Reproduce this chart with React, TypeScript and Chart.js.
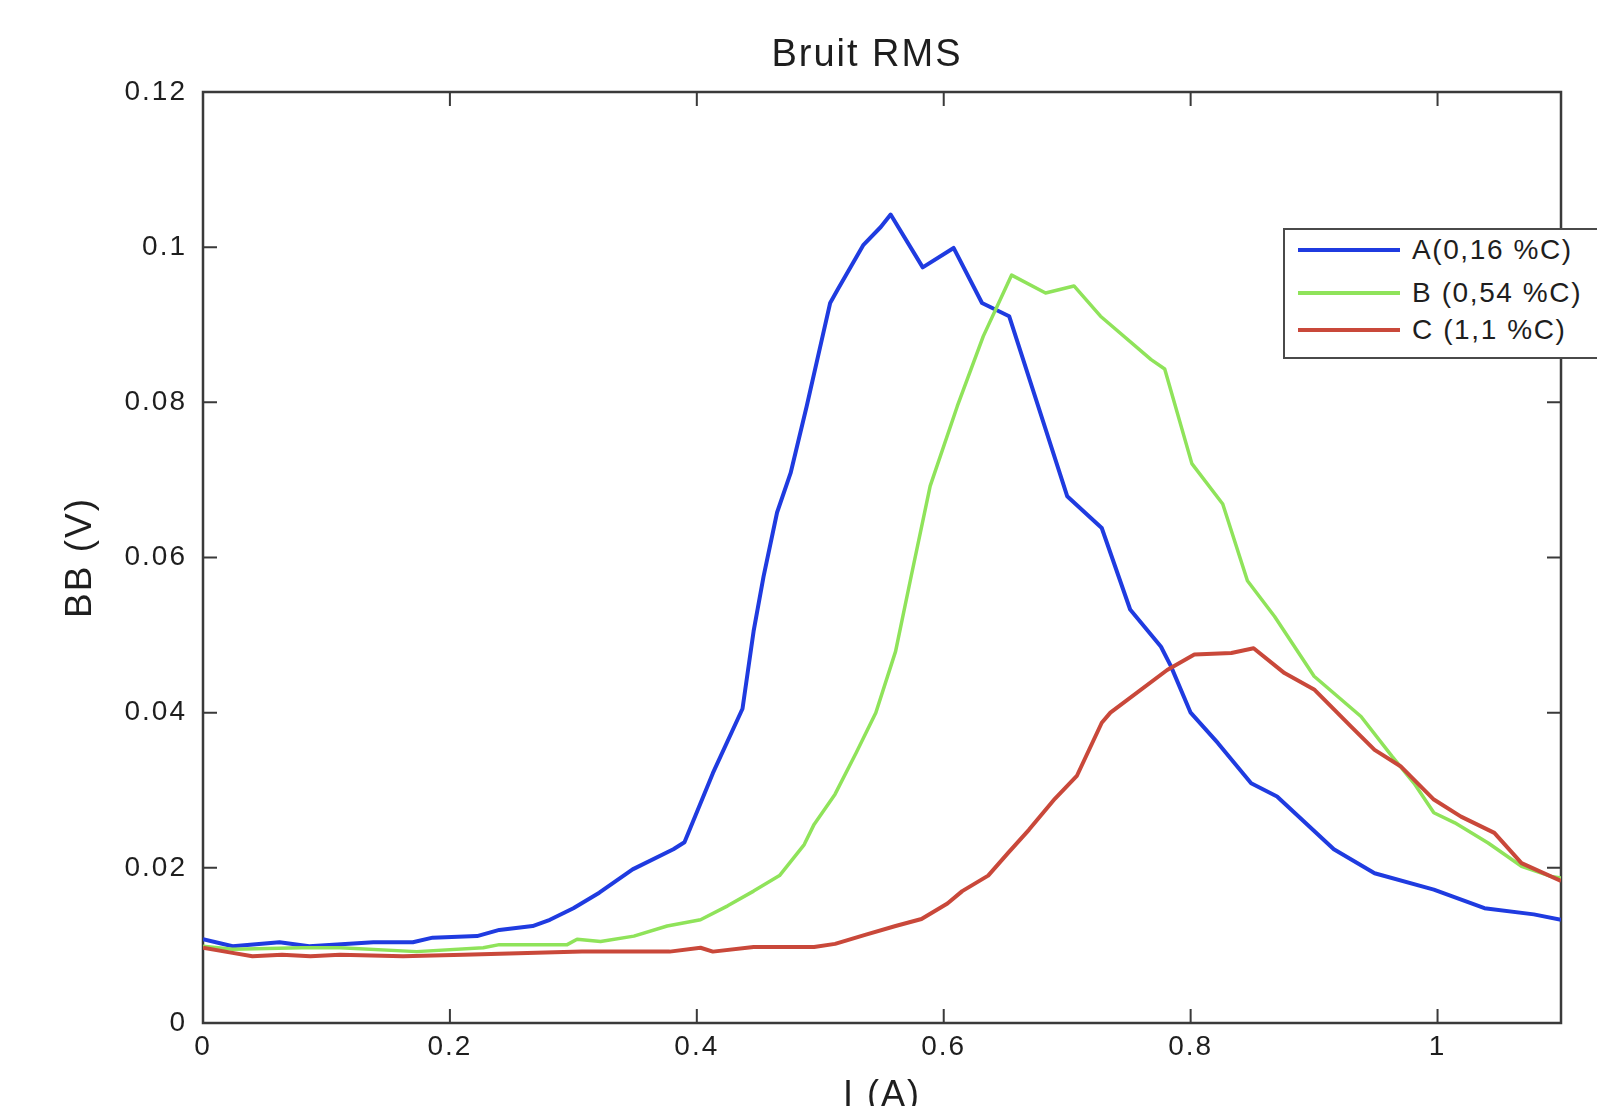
import React, { useEffect, useRef } from "react";
import { Chart, registerables } from "chart.js";

Chart.register(...registerables);

const titleText = "Bruit RMS";
const xAxisTitle = "I (A)";
const yAxisTitle = "BB (V)";
const seriesLabels = ["A(0,16 %C)", "B (0,54 %C)", "C (1,1 %C)"];
const seriesColors = ["#1f3be0", "#8fe35a", "#c9483a"];

const xTickValues = [0, 0.2, 0.4, 0.6, 0.8, 1];
const xTickLabels = ["0", "0.2", "0.4", "0.6", "0.8", "1"];
const yTickValues = [0, 0.02, 0.04, 0.06, 0.08, 0.1, 0.12];
const yTickLabels = ["0", "0.02", "0.04", "0.06", "0.08", "0.1", "0.12"];
const xRange = [0, 1.1];
const yRange = [0, 0.12];

// Series A (blue)
const aX = [0, 0.024, 0.062, 0.086, 0.138, 0.17, 0.186, 0.222, 0.24, 0.267, 0.281, 0.3, 0.321, 0.348, 0.381, 0.39, 0.413, 0.437, 0.446, 0.454, 0.465, 0.476, 0.489, 0.503, 0.508, 0.514, 0.535, 0.549, 0.557, 0.583, 0.608, 0.631, 0.653, 0.7, 0.728, 0.751, 0.776, 0.784, 0.8, 0.822, 0.849, 0.87, 0.916, 0.949, 0.997, 1.038, 1.078, 1.1];
const aY = [0.0108, 0.0099, 0.0104, 0.0099, 0.0104, 0.0104, 0.011, 0.0112, 0.012, 0.0125, 0.0133, 0.0148, 0.0168, 0.0198, 0.0224, 0.0233, 0.0322, 0.0405, 0.0505, 0.0575, 0.0658, 0.0709, 0.0795, 0.0893, 0.0928, 0.0945, 0.1003, 0.1026, 0.1042, 0.0974, 0.0999, 0.0928, 0.0911, 0.0679, 0.0638, 0.0533, 0.0485, 0.046, 0.04, 0.0361, 0.0309, 0.0292, 0.0224, 0.0193, 0.0172, 0.0148, 0.014, 0.0133];

// Series B (green)
const bX = [0, 0.024, 0.08, 0.111, 0.173, 0.227, 0.24, 0.295, 0.303, 0.322, 0.349, 0.376, 0.403, 0.425, 0.446, 0.467, 0.487, 0.495, 0.512, 0.529, 0.545, 0.561, 0.573, 0.589, 0.611, 0.632, 0.655, 0.6825, 0.7055, 0.727, 0.768, 0.779, 0.801, 0.826, 0.846, 0.868, 0.9, 0.938, 0.963, 0.981, 0.997, 1.014, 1.041, 1.068, 1.092, 1.1];
const bY = [0.0099, 0.0095, 0.0097, 0.0097, 0.0092, 0.0097, 0.0101, 0.0101, 0.0108, 0.0105, 0.0112, 0.0125, 0.0133, 0.0151, 0.017, 0.019, 0.023, 0.0256, 0.0295, 0.0348, 0.04, 0.0479, 0.0571, 0.0692, 0.0795, 0.0885, 0.0964, 0.0941, 0.095, 0.0911, 0.0855, 0.0843, 0.0721, 0.0669, 0.057, 0.0524, 0.0447, 0.0395, 0.0344, 0.0309, 0.0271, 0.0258, 0.0232, 0.0202, 0.0189, 0.0187];

// Series C (red)
const cX = [0, 0.0215, 0.04, 0.064, 0.087, 0.111, 0.162, 0.211, 0.307, 0.378, 0.403, 0.413, 0.446, 0.495, 0.512, 0.537, 0.561, 0.582, 0.603, 0.615, 0.636, 0.652, 0.669, 0.69, 0.708, 0.728, 0.735, 0.781, 0.803, 0.833, 0.851, 0.876, 0.9, 0.93, 0.949, 0.97, 0.997, 1.019, 1.046, 1.068, 1.1];
const cY = [0.0097, 0.0091, 0.0086, 0.0088, 0.0086, 0.0088, 0.0086, 0.0088, 0.0092, 0.0092, 0.0097, 0.0092, 0.0098, 0.0098, 0.0102, 0.0114, 0.0125, 0.0134, 0.0154, 0.017, 0.019, 0.0219, 0.0249, 0.0289, 0.0319, 0.0387, 0.04, 0.0455, 0.0475, 0.0477, 0.0483, 0.0451, 0.043, 0.0382, 0.0352, 0.0331, 0.0288, 0.0266, 0.0245, 0.0206, 0.0183];

const seriesX = [aX, bX, cX];
const seriesY = [aY, bY, cY];
const seriesWidths = [4, 3.5, 4];

const FONT = "'Liberation Sans', Arial, Helvetica, sans-serif";
const TEXT = "#1e1e1e";

const spacingPlugin = {
  id: "letterSpacing",
  beforeLayout(chart: any) {
    chart.ctx.letterSpacing = "2px";
  },
  afterLayout(chart: any) {
    // MATLAB centres the title slightly left of the axes box centre
    if (chart.titleBlock) chart.titleBlock.left -= 30;
  },
  beforeDraw(chart: any) {
    chart.ctx.letterSpacing = "2px";
  },
};

const boxPlugin = {
  id: "matlabBox",
  beforeDatasetsDraw(chart: any) {
    const { ctx, chartArea } = chart;
    const { left, right, top, bottom } = chartArea;
    const xs = chart.scales.x;
    const ys = chart.scales.y;
    const L = 14;
    ctx.save();
    ctx.strokeStyle = "#3a3a3a";
    ctx.lineWidth = 2.5;
    ctx.strokeRect(left, top, right - left, bottom - top);
    ctx.lineWidth = 2;
    ctx.beginPath();
    xTickValues.forEach((v) => {
      const p = xs.getPixelForValue(v);
      ctx.moveTo(p, bottom);
      ctx.lineTo(p, bottom - L);
      ctx.moveTo(p, top);
      ctx.lineTo(p, top + L);
    });
    yTickValues.forEach((v) => {
      const p = ys.getPixelForValue(v);
      ctx.moveTo(left, p);
      ctx.lineTo(left + L, p);
      ctx.moveTo(right, p);
      ctx.lineTo(right - L, p);
    });
    ctx.stroke();
    ctx.restore();
  },
};

export default function App() {
  const ref = useRef<HTMLCanvasElement | null>(null);

  useEffect(() => {
    if (!ref.current) return;
    const datasets = seriesLabels.map((label, i) => ({
      label,
      data: seriesX[i].map((x, k) => ({ x, y: seriesY[i][k] })),
      borderColor: seriesColors[i],
      backgroundColor: seriesColors[i],
      borderWidth: seriesWidths[i],
      pointRadius: 0,
      tension: 0,
      fill: false,
      order: 3 - i,
      borderJoinStyle: "round" as const,
    }));

    const chart = new Chart(ref.current, {
      type: "line",
      data: { datasets },
      options: {
        animation: false,
        responsive: false,
        devicePixelRatio: 1,
        layout: { padding: { left: 0, right: 36, top: 0, bottom: 0 } },
        plugins: {
          legend: { display: false },
          tooltip: { enabled: false },
          title: {
            display: true,
            text: titleText,
            fullSize: false,
            color: TEXT,
            font: { size: 38, family: FONT, weight: "normal", lineHeight: 1.2 },
            padding: { top: 33, bottom: 13.4 },
          },
        },
        scales: {
          x: {
            type: "linear",
            min: xRange[0],
            max: xRange[1],
            grid: { display: false, drawTicks: false },
            border: { display: false },
            afterBuildTicks: (s: any) => {
              s.ticks = xTickValues.map((v) => ({ value: v }));
            },
            afterFit: (s: any) => {
              s.height = 83;
            },
            ticks: {
              autoSkip: false,
              maxRotation: 0,
              padding: 7,
              color: TEXT,
              font: { size: 28, family: FONT },
              callback: (_v: any, i: number) => xTickLabels[i],
            },
            title: {
              display: true,
              text: xAxisTitle,
              color: TEXT,
              font: { size: 36, family: FONT, lineHeight: 1.2 },
              padding: { top: 0, bottom: -12 },
            },
          },
          y: {
            type: "linear",
            min: yRange[0],
            max: yRange[1],
            grid: { display: false, drawTicks: false },
            border: { display: false },
            afterBuildTicks: (s: any) => {
              s.ticks = yTickValues.map((v) => ({ value: v }));
            },
            afterFit: (s: any) => {
              s.width = 203;
            },
            ticks: {
              padding: 16,
              color: TEXT,
              font: { size: 28, family: FONT },
              callback: (_v: any, i: number) => yTickLabels[i],
            },
            title: {
              display: true,
              text: yAxisTitle,
              color: TEXT,
              font: { size: 37, family: FONT, lineHeight: 1.2 },
              padding: { top: 59, bottom: 0 },
            },
          },
        },
      },
      plugins: [spacingPlugin, boxPlugin],
    });
    return () => chart.destroy();
  }, []);

  const legendRows = [20, 63, 100];

  return (
    <div style={{ position: "relative", width: 1597, height: 1106, overflow: "hidden", background: "#fff" }}>
      <style>{"html,body{margin:0;padding:0;overflow:hidden;background:#fff}"}</style>
      <canvas ref={ref} width={1597} height={1106} style={{ display: "block" }} />
      <div
        style={{
          position: "absolute",
          left: 1283,
          top: 228,
          width: 340,
          height: 131,
          boxSizing: "border-box",
          border: "2px solid #4a4a4a",
          background: "#fff",
          fontFamily: FONT,
        }}
      >
        {seriesLabels.map((label, i) => (
          <div
            key={label}
            style={{
              position: "absolute",
              left: 13,
              top: legendRows[i] - 16,
              height: 32,
              display: "flex",
              alignItems: "center",
              whiteSpace: "nowrap",
            }}
          >
            <span style={{ display: "inline-block", width: 102, height: 4, background: seriesColors[i] }} />
            <span style={{ marginLeft: 12, fontSize: 28, letterSpacing: "1.6px", color: TEXT, lineHeight: 1 }}>{label}</span>
          </div>
        ))}
      </div>
    </div>
  );
}
